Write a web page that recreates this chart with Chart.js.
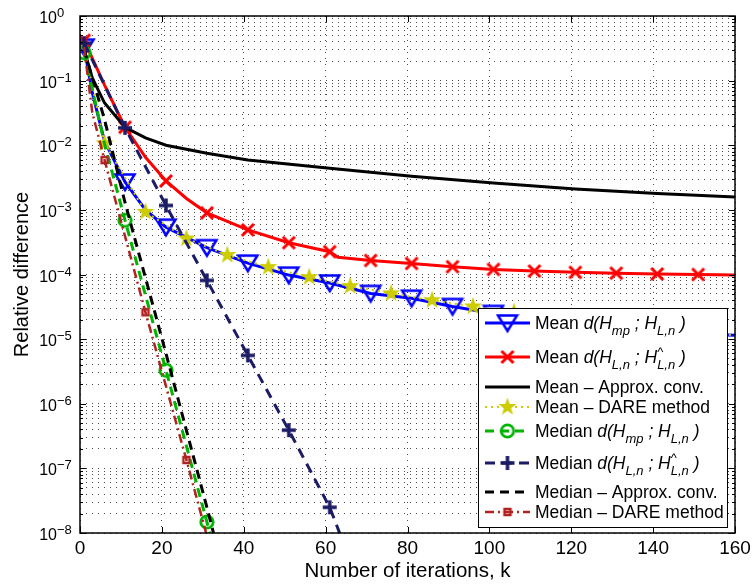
<!DOCTYPE html>
<html>
<head>
<meta charset="utf-8">
<script src="https://cdn.jsdelivr.net/npm/chart.js@4/dist/chart.umd.min.js"></script>
<style>
  html, body { margin: 0; padding: 0; background: #fff; }
  #wrap { width: 752px; height: 586px; }
</style>
</head>
<body>
<div id="wrap"><canvas id="chart" width="752" height="586"></canvas></div>
<script>
// values (iteration k, relative difference)
const meanMpIter = [1, 3, 6, 11, 16, 21, 31, 41, 51, 61, 71, 81, 91, 101, 111, 121, 131, 141, 151, 160];
const meanMpVal = [3.3e-1, 6.5e-2, 1.15e-2, 2.7e-3, 1.0e-3, 5.4e-4, 2.6e-4, 1.5e-4, 9.8e-5, 7.4e-5,
                   5.1e-5, 4.3e-5, 3.2e-5, 2.5e-5, 2.1e-5, 1.8e-5, 1.5e-5, 1.35e-5, 1.2e-5, 1.15e-5];

const meanHatIter = [1, 6, 11, 16, 21, 26, 31, 41, 51, 61, 63, 71, 81, 91, 101, 111, 121, 131, 141, 151, 160];
const meanHatVal = [4.2e-1, 8.5e-2, 1.9e-2, 6.5e-3, 2.8e-3, 1.5e-3, 9.0e-4, 4.9e-4, 3.1e-4, 2.25e-4, 1.85e-4,
                    1.65e-4, 1.48e-4, 1.32e-4, 1.2e-4, 1.13e-4, 1.08e-4, 1.05e-4, 1.02e-4, 1.0e-4, 9.8e-5];

const meanApproxIter = [1, 3, 6, 11, 16, 21, 31, 41, 61, 81, 101, 121, 141, 160];
const meanApproxVal = [3.0e-1, 1.1e-1, 4.5e-2, 1.9e-2, 1.3e-2, 1.0e-2, 7.5e-3, 5.9e-3, 4.4e-3, 3.3e-3,
                       2.6e-3, 2.1e-3, 1.8e-3, 1.58e-3];

const meanDareIter = [1, 6, 16, 26, 36, 46, 56, 66, 76, 86, 96, 106, 116, 126, 136, 146, 156, 160];
const meanDareVal = [3.3e-1, 1.07e-2, 9.3e-4, 3.6e-4, 2.0e-4, 1.3e-4, 9.1e-5, 6.6e-5, 5.1e-5, 4.0e-5,
                     3.2e-5, 2.6e-5, 2.1e-5, 1.8e-5, 1.5e-5, 1.3e-5, 1.2e-5, 1.15e-5];

const medMpIter = [1, 6, 11, 21, 31, 32];
const medMpVal = [2.7e-1, 1.05e-2, 6.9e-4, 3.3e-6, 1.48e-8, 8.5e-9];

const medHatIter = [1, 6, 11, 21, 31, 41, 51, 61, 64];
const medHatVal = [3.8e-1, 8.5e-2, 1.86e-2, 1.17e-3, 8.1e-5, 5.6e-6, 3.9e-7, 2.5e-8, 8e-9];

const medApproxIter = [1, 6, 11, 21, 31, 33];
const medApproxVal = [3.0e-1, 2.5e-2, 1.3e-3, 6.0e-6, 2.5e-8, 8e-9];

const medDareIter = [1, 3, 6, 16, 26, 31];
const medDareVal = [3.3e-1, 3.2e-2, 5.9e-3, 2.6e-5, 1.35e-7, 9e-9];

const xTicks = [0, 20, 40, 60, 80, 100, 120, 140, 160];
const yExponents = [-8, -7, -6, -5, -4, -3, -2, -1, 0];

const FONT = '"Liberation Sans", Arial, Helvetica, sans-serif';

// marker glyphs, drawn once on small canvases
function glyph(size, draw) {
  const c = document.createElement('canvas');
  c.width = size; c.height = size;
  const g = c.getContext('2d');
  draw(g, size / 2);
  return c;
}
const triDown = glyph(24, (g, m) => {
  g.strokeStyle = '#0000ff'; g.lineWidth = 2.5; g.lineJoin = 'miter';
  g.beginPath(); g.moveTo(m - 9.5, m - 7.5); g.lineTo(m + 9.5, m - 7.5); g.lineTo(m, m + 8); g.closePath(); g.stroke();
});
const crossX = glyph(18, (g, m) => {
  g.strokeStyle = '#ff0000'; g.lineWidth = 3;
  g.beginPath(); g.moveTo(m - 6, m - 6); g.lineTo(m + 6, m + 6); g.moveTo(m - 6, m + 6); g.lineTo(m + 6, m - 6); g.stroke();
});
const star = glyph(22, (g, m) => {
  g.fillStyle = '#cccc00';
  g.beginPath();
  for (let i = 0; i < 10; i++) {
    const r = i % 2 ? 3.8 : 9.5;
    const a = -Math.PI / 2 + i * Math.PI / 5;
    g.lineTo(m + r * Math.cos(a), m + r * Math.sin(a));
  }
  g.closePath(); g.fill();
});
const ring = glyph(20, (g, m) => {
  g.strokeStyle = '#00b400'; g.lineWidth = 2.8;
  g.beginPath(); g.arc(m, m, 6.2, 0, Math.PI * 2); g.stroke();
});
const plus = glyph(18, (g, m) => {
  g.strokeStyle = '#1c1c66'; g.lineWidth = 3.5;
  g.beginPath(); g.moveTo(m - 7, m); g.lineTo(m + 7, m); g.moveTo(m, m - 7); g.lineTo(m, m + 7); g.stroke();
});
const square = glyph(12, (g, m) => {
  g.strokeStyle = '#b22222'; g.lineWidth = 2.5;
  g.strokeRect(m - 3, m - 3, 6, 6);
});

// markers every 10 iterations starting at `first`
const every10 = (first, last = 1e9) => (k) => k >= first && k <= last && (k - first) % 10 === 0;

function series(iters, vals, opts) {
  const marked = opts.marked || (() => false);
  return {
    data: iters.map((k, i) => ({ x: k, y: vals[i] })),
    borderColor: opts.color,
    borderWidth: opts.width,
    borderDash: opts.dash || [],
    pointStyle: opts.marker || 'circle',
    pointRadius: (c) => (c.raw && marked(c.raw.x) ? 6 : 0),
    pointHoverRadius: 0,
    fill: false,
    tension: 0,
    order: opts.order
  };
}

const specs = [
  { iters: meanMpIter, vals: meanMpVal, color: '#0000ff', width: 3, marker: triDown, marked: every10(1), order: 8 },
  { iters: meanHatIter, vals: meanHatVal, color: '#ff0000', width: 3, marker: crossX, marked: every10(1), order: 7 },
  { iters: meanApproxIter, vals: meanApproxVal, color: '#000000', width: 3, order: 6 },
  { iters: meanDareIter, vals: meanDareVal, color: '#cccc00', width: 2, dash: [2, 4], marker: star, marked: every10(6), order: 5 },
  { iters: medMpIter, vals: medMpVal, color: '#00b400', width: 3, dash: [9, 6], marker: ring, marked: every10(1, 31), order: 4 },
  { iters: medHatIter, vals: medHatVal, color: '#1c1c66', width: 3, dash: [10, 7], marker: plus, marked: every10(1, 61), order: 3 },
  { iters: medApproxIter, vals: medApproxVal, color: '#000000', width: 3, dash: [9, 6], order: 2 },
  { iters: medDareIter, vals: medDareVal, color: '#b22222', width: 2.5, dash: [9, 4, 2, 4], marker: square, marked: every10(6, 26), order: 1 }
];

const legendRows = [
  { spec: 0, dy: 15, parts: [['Mean ', ''], ['d(H', 'i'], ['mp', 'is'], [' ; H', 'i'], ['L,n', 'is'], [' )', 'i']] },
  { spec: 1, dy: 49, parts: [['Mean ', ''], ['d(H', 'i'], ['L,n', 'is'], [' ; H', 'i'], ['^', 'h'], ['L,n', 'is'], [' )', 'i']] },
  { spec: 2, dy: 79, parts: [['Mean \u2013 Approx. conv.', '']] },
  { spec: 3, dy: 99, parts: [['Mean \u2013 DARE method', '']] },
  { spec: 4, dy: 123, parts: [['Median ', ''], ['d(H', 'i'], ['mp', 'is'], [' ; H', 'i'], ['L,n', 'is'], [' )', 'i']] },
  { spec: 5, dy: 155, parts: [['Median ', ''], ['d(H', 'i'], ['L,n', 'is'], [' ; H', 'i'], ['^', 'h'], ['L,n', 'is'], [' )', 'i']] },
  { spec: 6, dy: 184, parts: [['Median \u2013 Approx. conv.', '']] },
  { spec: 7, dy: 204, parts: [['Median \u2013 DARE method', '']] }
];

function drawRich(ctx, parts, x, y) {
  for (const [text, flags] of parts) {
    const small = flags.includes('s') || flags.includes('h');
    const size = small ? 13 : 17.5;
    ctx.font = (flags.includes('i') ? 'italic ' : '') + size + 'px ' + FONT;
    let dy = 0;
    if (flags.includes('s')) dy = 6;
    if (flags.includes('h')) dy = -7;
    ctx.fillText(text, x, y + dy);
    if (!flags.includes('h')) x += ctx.measureText(text).width;
  }
}

// box, inward ticks and tick labels in the MATLAB style
const axesDecor = {
  id: 'axesDecor',
  afterDatasetsDraw(chart) {
    const { ctx, chartArea: a, scales: { x, y } } = chart;
    ctx.save();
    ctx.strokeStyle = '#000';
    ctx.lineWidth = 1;
    ctx.beginPath();
    x.ticks.forEach(t => {
      const px = Math.round(x.getPixelForValue(t.value)) + 0.5;
      ctx.moveTo(px, a.bottom); ctx.lineTo(px, a.bottom - 6);
      ctx.moveTo(px, a.top); ctx.lineTo(px, a.top + 6);
    });
    y.ticks.forEach(t => {
      const py = Math.round(y.getPixelForValue(t.value)) + 0.5;
      const len = t.major ? 6 : 3;
      ctx.moveTo(a.left, py); ctx.lineTo(a.left + len, py);
      ctx.moveTo(a.right, py); ctx.lineTo(a.right - len, py);
    });
    ctx.stroke();
    ctx.lineWidth = 1.5;
    ctx.strokeRect(a.left, a.top, a.right - a.left, a.bottom - a.top);

    ctx.fillStyle = '#000';
    ctx.textBaseline = 'alphabetic';
    ctx.font = '19px ' + FONT;
    ctx.textAlign = 'center';
    xTicks.forEach(v => ctx.fillText(String(v), x.getPixelForValue(v), a.bottom + 21));

    yExponents.forEach(e => {
      const py = y.getPixelForValue(Math.pow(10, e));
      ctx.textAlign = 'right';
      ctx.font = '16px ' + FONT;
      ctx.fillText('10', a.left - 23, py + 7);
      ctx.textAlign = 'left';
      ctx.font = '13px ' + FONT;
      ctx.fillText(e < 0 ? '\u2212' + (-e) : String(e), a.left - 23, py + 1);
    });

    ctx.textAlign = 'center';
    ctx.font = '20.5px ' + FONT;
    ctx.fillText('Number of iterations, k', (a.left + a.right) / 2, a.bottom + 44);
    ctx.translate(28, (a.top + a.bottom) / 2);
    ctx.rotate(-Math.PI / 2);
    ctx.font = '20px ' + FONT;
    ctx.fillText('Relative difference', 0, 0);
    ctx.restore();
  }
};

const matlabLegend = {
  id: 'matlabLegend',
  afterDraw(chart) {
    const { ctx, chartArea: a } = chart;
    const w = 249, h = 219;
    const x0 = a.right - 8 - w, y0 = a.bottom - 6 - h;
    ctx.save();
    ctx.fillStyle = '#fff';
    ctx.fillRect(x0, y0, w, h);
    ctx.strokeStyle = '#000';
    ctx.lineWidth = 1;
    ctx.strokeRect(x0 + 0.5, y0 + 0.5, w, h);
    legendRows.forEach(row => {
      const s = specs[row.spec];
      const yy = y0 + row.dy;
      ctx.strokeStyle = s.color;
      ctx.lineWidth = s.width;
      ctx.setLineDash(s.dash || []);
      ctx.beginPath(); ctx.moveTo(x0 + 7, yy); ctx.lineTo(x0 + 52, yy); ctx.stroke();
      ctx.setLineDash([]);
      if (s.marker) ctx.drawImage(s.marker, x0 + 29.5 - s.marker.width / 2, yy - s.marker.height / 2);
      ctx.fillStyle = '#000';
      ctx.textAlign = 'left';
      ctx.textBaseline = 'alphabetic';
      drawRich(ctx, row.parts, x0 + 57, yy + 6);
    });
    ctx.restore();
  }
};

const gridDots = { color: 'rgba(0,0,0,0.7)', lineWidth: 1, drawTicks: false };

new Chart(document.getElementById('chart'), {
  type: 'line',
  data: { datasets: specs.map(s => series(s.iters, s.vals, s)) },
  options: {
    responsive: false,
    animation: false,
    events: [],
    layout: { padding: { left: 80, top: 16, right: 17, bottom: 53 } },
    plugins: { legend: { display: false }, tooltip: { enabled: false } },
    scales: {
      x: {
        type: 'linear',
        min: 0,
        max: 160,
        ticks: { display: false, stepSize: 20 },
        grid: gridDots,
        border: { display: false, dash: [1, 5] }
      },
      y: {
        type: 'logarithmic',
        min: 1e-8,
        max: 1,
        ticks: { display: false },
        grid: gridDots,
        border: { display: false, dash: [1, 5] },
        afterBuildTicks: (scale) => {
          const ticks = [];
          yExponents.forEach(e => {
            for (let m = 1; m <= 9; m++) {
              if (e === 0 && m > 1) break;
              ticks.push({ value: m * Math.pow(10, e), major: m === 1 });
            }
          });
          scale.ticks = ticks;
        }
      }
    }
  },
  plugins: [axesDecor, matlabLegend]
});
</script>
</body>
</html>
